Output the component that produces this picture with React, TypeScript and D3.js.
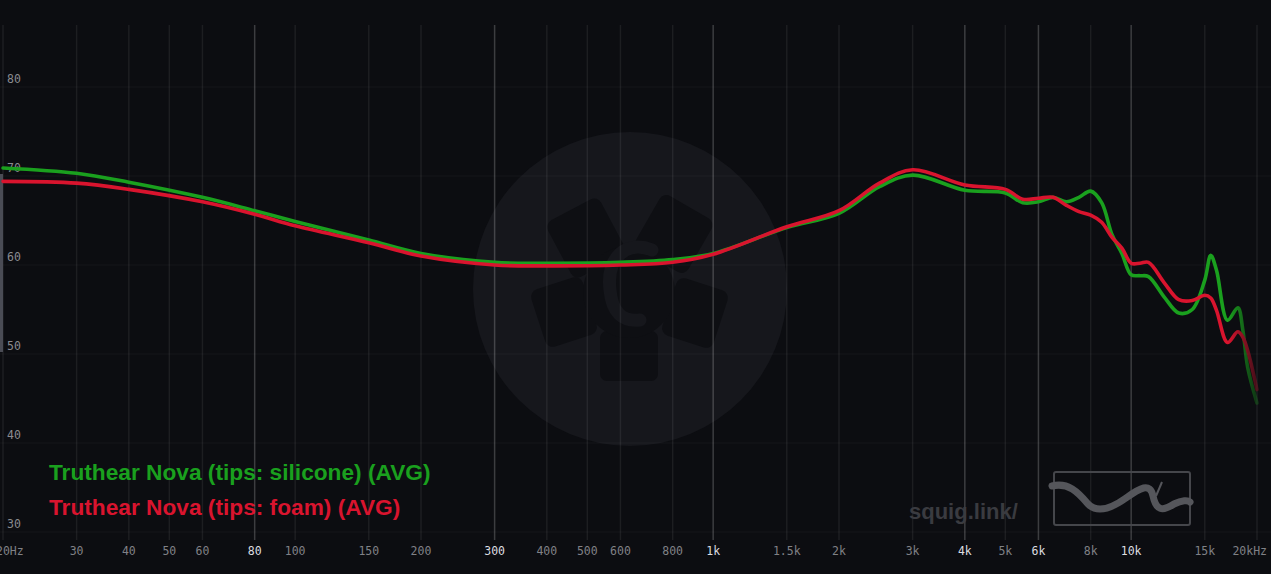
import React from "react";
import * as d3 from "d3";

const W = 1271;
const H = 574;

const freqs = [20, 30, 40, 60, 80, 100, 150, 200, 300, 400, 600, 800, 1000, 1500, 2000, 2500, 3000, 4000, 5000, 5500, 6000, 6500, 7000, 7500, 8000, 8500, 9000, 9500, 10000, 10500, 11000, 12000, 13000, 14000, 15000, 15500, 16000, 17000, 18000, 18500, 19000, 20000];

const silicone = [70.9, 70.3, 69.3, 67.6, 66.1, 64.9, 62.8, 61.3, 60.3, 60.2, 60.3, 60.6, 61.3, 64.2, 65.8, 68.8, 70.1, 68.4, 68.1, 67.0, 67.1, 67.6, 67.1, 67.6, 68.3, 67.0, 63.4, 61.3, 58.9, 58.8, 58.7, 56.4, 54.6, 55.0, 58.3, 61.1, 59.4, 53.8, 55.2, 52.7, 48.5, 44.5];

const foam = [69.4, 69.2, 68.5, 67.1, 65.7, 64.4, 62.5, 61.0, 60.0, 59.9, 60.0, 60.3, 61.2, 64.3, 66.1, 69.2, 70.7, 69.0, 68.5, 67.4, 67.5, 67.6, 66.7, 66.0, 65.6, 64.8, 63.1, 61.9, 60.2, 60.2, 60.3, 58.0, 56.1, 56.0, 56.6, 56.3, 54.9, 51.3, 52.5, 51.9, 50.4, 46.0];

const xTicks = [20, 30, 40, 50, 60, 80, 100, 150, 200, 300, 400, 500, 600, 800, 1000, 1500, 2000, 3000, 4000, 5000, 6000, 8000, 10000, 15000, 20000];
const xTickLabels = ["20Hz", "30", "40", "50", "60", "80", "100", "150", "200", "300", "400", "500", "600", "800", "1k", "1.5k", "2k", "3k", "4k", "5k", "6k", "8k", "10k", "15k", "20kHz"];
const xMajor = [80, 300, 1000, 4000, 6000, 10000];
const yTicks = [30, 40, 50, 60, 70, 80];

const seriesNames = ["Truthear Nova (tips: silicone) (AVG)", "Truthear Nova (tips: foam) (AVG)"];
const seriesColors = ["#1aa01e", "#d9142e"];

const BG = "#0c0d11";

export default function App() {
  const x = d3.scaleLog().domain([20, 20000]).range([3, 1257]);
  const y = d3.scaleLinear().domain([60, 70]).range([265, 176]);

  const line = d3
    .line<number>()
    .x((_, i) => x(freqs[i]))
    .y((d) => y(d))
    .curve(d3.curveCatmullRom.alpha(0.5));

  const series = [silicone, foam];

  return (
    <svg
      width={W}
      height={H}
      style={{ position: "fixed", left: 0, top: 0, background: BG, display: "block" }}
      xmlns="http://www.w3.org/2000/svg"
    >
      <defs>
        <linearGradient id="fade" x1="0" x2={W} y1="0" y2="0" gradientUnits="userSpaceOnUse">
          <stop offset={1228 / W} stopColor="#fff" stopOpacity={1} />
          <stop offset={1262 / W} stopColor="#fff" stopOpacity={0.15} />
        </linearGradient>
        <mask id="fadeMask" maskUnits="userSpaceOnUse" x="0" y="0" width={W} height={H}>
          <rect x={0} y={0} width={W} height={H} fill="url(#fade)" />
        </mask>
        <clipPath id="plotClip">
          <rect x={0} y={0} width={1262} height={H} />
        </clipPath>
      </defs>
      <rect x={0} y={0} width={W} height={H} fill={BG} />

      {/* watermark */}
      <g>
        <circle cx={630} cy={289} r={157} fill="#16171c" />
        <g fill="#0e0f13">
          <rect x={-30} y={-32} width={60} height={64} rx={8} transform="translate(586,238) rotate(-28)" />
          <rect x={-30} y={-31} width={60} height={62} rx={8} transform="translate(674,234) rotate(30)" />
          <rect x={-27} y={-30} width={54} height={60} rx={8} transform="translate(564,312) rotate(-18)" />
          <rect x={-27} y={-30} width={54} height={60} rx={8} transform="translate(695,313) rotate(18)" />
          <rect x={-29} y={-25} width={58} height={50} rx={7} transform="translate(629,356)" />
          <circle cx={629} cy={292} r={46} />
        </g>
        <path
          d="M 652 250 C 628 240 606 256 610 290 C 612 312 622 322 640 320"
          fill="none"
          stroke="#16171c"
          strokeWidth={13}
          strokeLinecap="round"
        />
      </g>

      {/* horizontal grid */}
      {yTicks.map((t) => (
        <line key={"h" + t} x1={0} x2={W} y1={y(t)} y2={y(t)} stroke="#ffffff" strokeOpacity={0.045} />
      ))}

      {/* vertical grid */}
      {xTicks.map((t) => (
        <line
          key={"v" + t}
          x1={x(t)}
          x2={x(t)}
          y1={25}
          y2={540}
          stroke="#ffffff"
          strokeOpacity={xMajor.includes(t) ? 0.2 : 0.07}
          strokeWidth={1.5}
        />
      ))}

      {/* y labels */}
      {yTicks.map((t) => (
        <text
          key={"yl" + t}
          x={7}
          y={y(t) - 4}
          fontFamily="'DejaVu Sans Mono', monospace"
          fontSize={11.5}
          fill="#8a8b90"
        >
          {t}
        </text>
      ))}

      {/* x labels */}
      {xTicks.map((t, i) => (
        <text
          key={"xl" + t}
          x={i === 0 ? -4 : i === xTicks.length - 1 ? 1267 : x(t)}
          y={555}
          textAnchor={i === 0 ? "start" : i === xTicks.length - 1 ? "end" : "middle"}
          fontFamily="'DejaVu Sans Mono', monospace"
          fontSize={11.5}
          fill={xMajor.includes(t) ? "#dcdde0" : "#808186"}
        >
          {xTickLabels[i]}
        </text>
      ))}

      {/* left scale handle */}
      <rect x={0} y={174} width={3} height={178} fill="#4a4c55" />

      {/* squig.link branding */}
      <text
        x={909}
        y={519}
        fontFamily="'Liberation Sans', Arial, sans-serif"
        fontWeight="bold"
        fontSize={22}
        fill="#3a3b40"
      >
        squig.link/
      </text>
      <rect x={1054} y={472} width={136} height={53} rx={2} fill="none" stroke="#45464b" strokeWidth={2} />
      <path
        d="M 1052 486 C 1068 482 1078 492 1088 504 C 1098 514 1112 508 1126 498 C 1140 488 1150 482 1153 496 C 1156 510 1162 512 1174 504 C 1182 500 1188 500 1190 502"
        fill="none"
        stroke="#55565b"
        strokeWidth={7}
        strokeLinecap="round"
      />
      <path d="M 1162 482 L 1156 496" stroke="#55565b" strokeWidth={2} />

      {/* curves */}
      <g clipPath="url(#plotClip)" mask="url(#fadeMask)">
        {series.map((s, i) => (
          <path
            key={"s" + i}
            d={line(s) || ""}
            fill="none"
            stroke={seriesColors[i]}
            strokeWidth={3.6}
            strokeLinejoin="round"
            strokeLinecap="round"
          />
        ))}
      </g>

      {/* legend */}
      {seriesNames.map((n, i) => (
        <text
          key={"lg" + i}
          x={49}
          y={480 + i * 35}
          fontFamily="'Liberation Sans', Arial, sans-serif"
          fontWeight="bold"
          fontSize={22.7}
          fill={seriesColors[i]}
        >
          {n}
        </text>
      ))}
    </svg>
  );
}
